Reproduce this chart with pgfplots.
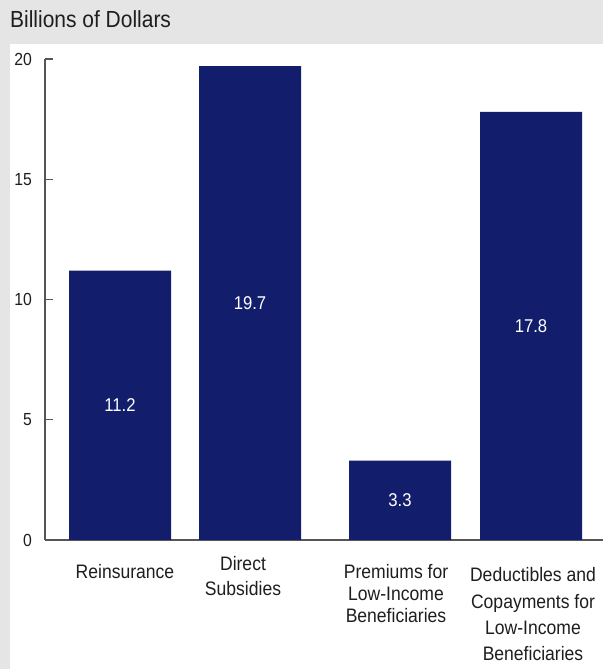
\documentclass[border=0pt]{standalone}
\usepackage{fontspec}
\setmainfont{Liberation Sans}[FakeStretch=0.9]
\usepackage{pgfplots}
\pgfplotsset{compat=1.18}
\definecolor{bggray}{HTML}{E5E5E5}
\definecolor{barblue}{HTML}{121E6B}
\definecolor{axisgray}{HTML}{555555}
\definecolor{txt}{HTML}{1E1E1E}
\begin{document}
\begin{tikzpicture}
\useasboundingbox (0,0) rectangle (603pt,669pt);
\fill[bggray] (0,0) rectangle (603pt,669pt);
\fill[white] (10pt,0) rectangle (603pt,625pt);
\node[anchor=base west, inner sep=0pt, text=txt] at (10pt,641pt) {\fontsize{23.3}{27}\selectfont Billions of Dollars};
\begin{axis}[
  at={(45pt,129pt)}, anchor=south west,
  scale only axis, width=558pt, height=481pt,
  xmin=45, xmax=603, ymin=0, ymax=20,
  axis x line*=bottom, axis y line*=left,
  axis line style={-, draw=axisgray, line width=1.6pt},
  xtick=\empty,
  ytick={0,5,10,15,20},
  tick align=inside,
  major tick length=8pt,
  every tick/.style={axisgray, line width=1.4pt},
  /pgf/number format/assume math mode=true,
  yticklabel style={font=\fontsize{17.5}{20}\selectfont, text=txt, anchor=east, inner sep=0pt, xshift=-13pt},
  ybar, bar width=102,
  clip=false,
]
\addplot[fill=barblue, draw=none] coordinates {(120,11.2) (250,19.7) (400,3.3) (531,17.8)};
\begin{scope}[every node/.style={text=white, font=\fontsize{18.5}{21}\selectfont}]
\node at (axis cs:120,5.6) {11.2};
\node at (axis cs:250,9.85) {19.7};
\node at (axis cs:400,1.65) {3.3};
\node at (axis cs:531,8.9) {17.8};
\end{scope}
\begin{scope}[every node/.style={text=txt, anchor=base, inner sep=0pt, font=\fontsize{19.5}{22}\selectfont}]
\node at ([yshift=-39pt]axis cs:125,0) {Reinsurance};
\node at ([yshift=-31pt]axis cs:243,0) {Direct};
\node at ([yshift=-56pt]axis cs:243,0) {Subsidies};
\node at ([yshift=-39pt]axis cs:396,0) {Premiums for};
\node at ([yshift=-61pt]axis cs:396,0) {Low-Income};
\node at ([yshift=-82pt]axis cs:396,0) {Beneficiaries};
\node at ([yshift=-42pt]axis cs:533,0) {Deductibles and};
\node at ([yshift=-68pt]axis cs:533,0) {Copayments for};
\node at ([yshift=-95pt]axis cs:533,0) {Low-Income};
\node at ([yshift=-120pt]axis cs:533,0) {Beneficiaries};
\end{scope}
\end{axis}
\end{tikzpicture}
\end{document}
